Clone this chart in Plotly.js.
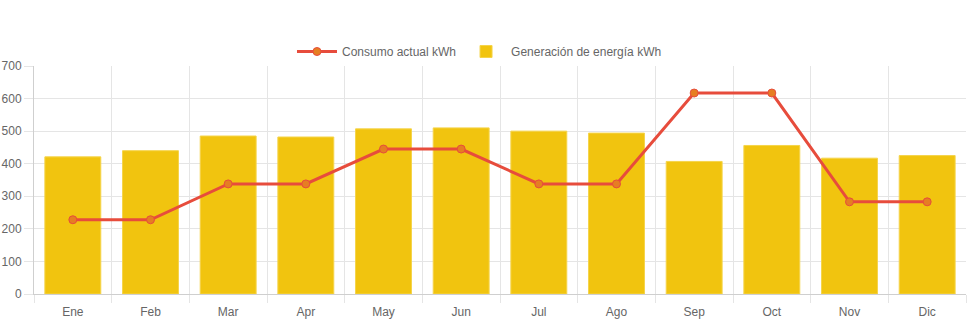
<!DOCTYPE html>
<html>
<head>
<meta charset="utf-8">
<script src="https://cdn.plot.ly/plotly-3.0.1.min.js"></script>
<style>html,body{margin:0;padding:0;background:#fff;}#chart{width:971px;height:323px;}</style>
</head>
<body>
<div id="chart"></div>
<script>
const months = ["Ene","Feb","Mar","Apr","May","Jun","Jul","Ago","Sep","Oct","Nov","Dic"];
const consumo = [228,228,338,338,445,445,338,338,617,617,283,283];
const generacion = [421,440,485,482,507,510,500,494,407,456,417,425];
const yTicks = [0,100,200,300,400,500,600,700];

const FONT = "Liberation Sans, Arial, Helvetica, sans-serif";
const traces = [
  {
    type: "scatter", mode: "lines+markers", name: "Consumo actual kWh",
    x: months, y: consumo,
    line: {color: "#e74c3c", width: 3},
    marker: {color: "#e67e22", size: 8, line: {color: "#e74c3c", width: 1}}
  },
  {
    type: "bar", name: "Generación de energía kWh",
    x: months, y: generacion,
    marker: {color: "#f1c40f", line: {color: "#f5d44a", width: 1}}
  }
];
const layout = {
  width: 971, height: 323,
  margin: {l: 34, r: 5, t: 66, b: 29, autoexpand: false},
  paper_bgcolor: "#fff", plot_bgcolor: "#fff",
  font: {family: FONT, size: 12, color: "#666"},
  bargap: 0.28,
  showlegend: true,
  legend: {orientation: "h", x: 0.478, xanchor: "center", y: 1.0, yanchor: "bottom", yref: "paper",
           itemwidth: 40,
           font: {family: FONT, size: 12, color: "#666"}, traceorder: "normal"},
  xaxis: {
    type: "category", tickson: "boundaries", automargin: false,
    range: [-0.5, months.length - 0.5],
    showgrid: true, gridcolor: "#e5e5e5", gridwidth: 1,
    ticks: "outside", ticklen: 8, tickcolor: "#e5e5e5",
    ticklabelstandoff: 7,
    showline: true, linecolor: "#cfcfcf", linewidth: 1,
    mirror: false,
    tickfont: {family: FONT, size: 12, color: "#666"},
    fixedrange: true
  },
  yaxis: {
    range: [0, 700], tickvals: yTicks, automargin: false,
    showgrid: true, gridcolor: "#e5e5e5", gridwidth: 1,
    zeroline: false,
    ticks: "outside", ticklen: 9, tickcolor: "#e5e5e5",
    showline: true, linecolor: "#cfcfcf", linewidth: 1,
    tickfont: {family: FONT, size: 12, color: "#666"},
    fixedrange: true
  }
};
Plotly.newPlot("chart", traces, layout, {displayModeBar: false, staticPlot: true});
</script>
</body>
</html>
